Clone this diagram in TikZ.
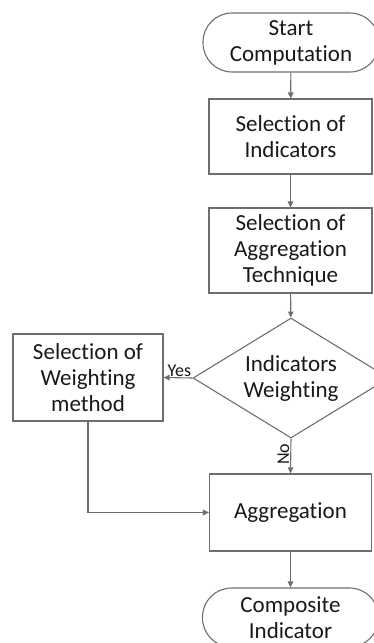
\documentclass[tikz,border=0pt]{standalone}
\usepackage{fontspec}
\setmainfont{Carlito}[Ligatures=NoCommon,RawFeature={-liga;-calt;-clig;-dlig}]
\usetikzlibrary{arrows.meta,shapes.geometric}
\definecolor{linegray}{RGB}{110,110,110}
\definecolor{textgray}{RGB}{25,25,25}
\tikzset{
  base/.style={draw=linegray, line width=1.1pt, text=textgray, align=center, inner sep=0pt,
    font=\fontsize{23}{26}\selectfont},
  procbox/.style={base, rectangle},
  termbox/.style={base, rectangle, rounded corners=29pt},
  decbox/.style={base, diamond, aspect=1.63},
  arr/.style={draw=linegray, line width=1.1pt, -{Triangle[length=6pt,width=5.5pt]}},
  lbl/.style={text=textgray, font=\fontsize{18}{20}\selectfont, inner sep=1pt}
}
\begin{document}
\begin{tikzpicture}[x={(1pt,0)}, y={(0,-1pt)}]
\useasboundingbox (0,0) rectangle (374,643);
\node[termbox, minimum width=176pt, minimum height=59pt] (start) at (291,42.5) {Start\\Computation};
\node[procbox, minimum width=163pt, minimum height=75pt] (ind) at (290.5,136.5) {Selection of\\Indicators};
\node[procbox, minimum width=163pt, minimum height=85pt] (agg) at (290.5,250.5) {Selection of\\Aggregation\\Technique};
\node[decbox, minimum width=196pt, minimum height=120pt] (dia) at (291,378) {Indicators\\Weighting};
\node[procbox, minimum width=150pt, minimum height=87pt] (wm) at (88,377.5) {Selection of\\Weighting\\method};
\node[procbox, minimum width=162pt, minimum height=77pt] (aggr) at (290.5,512.5) {Aggregation};
\node[termbox, minimum width=176pt, minimum height=59pt] (comp) at (290.5,617.5) {Composite\\Indicator};

\draw[arr] (start) -- (ind);
\draw[arr] (ind) -- (agg);
\draw[arr] (agg) -- (dia);
\draw[arr] (dia.west) -- node[lbl, above, pos=0.45] {Yes} (wm.east);
\draw[arr] (dia.south) -- node[lbl, rotate=90, above, pos=0.45] {No} (aggr.north);
\draw[arr] (wm.south) |- (aggr.west);
\draw[arr] (aggr) -- (comp);
\end{tikzpicture}
\end{document}
